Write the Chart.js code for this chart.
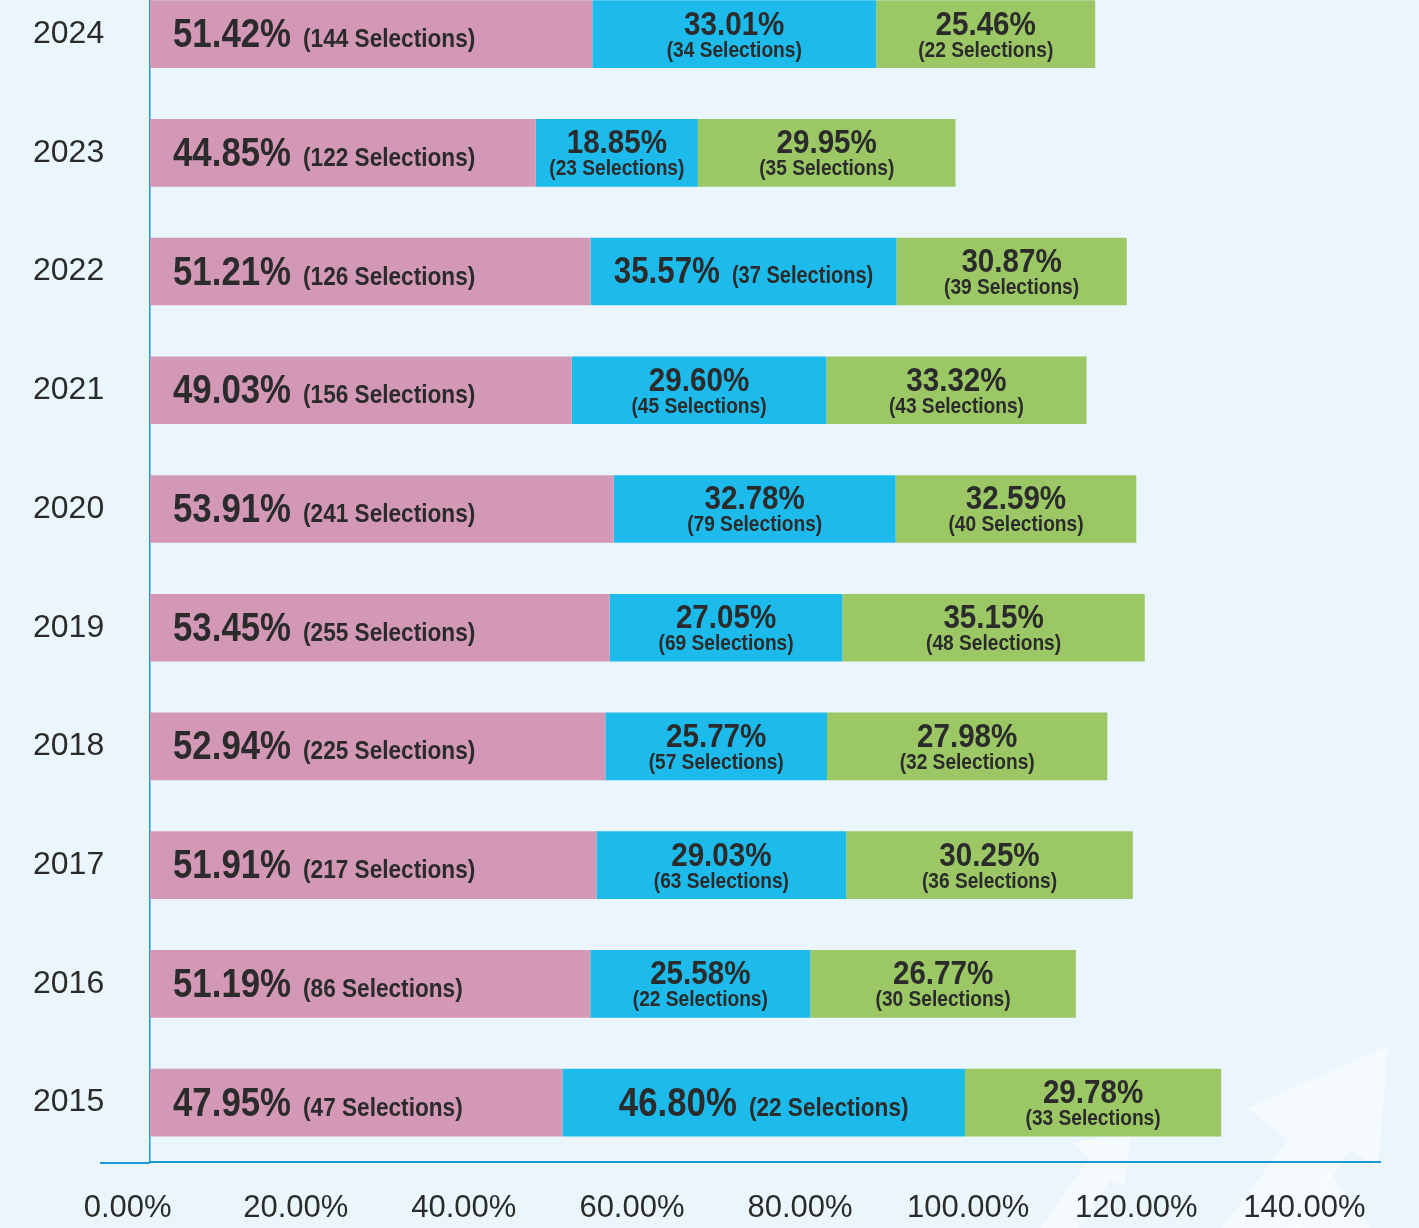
<!DOCTYPE html>
<html>
<head>
<meta charset="utf-8">
<script src="https://cdn.jsdelivr.net/npm/chart.js@4.4.1/dist/chart.umd.min.js"></script>
<style>
  html, body { margin: 0; padding: 0; background: #ebf6fc; }
  canvas { display: block; }
</style>
</head>
<body>
<canvas id="selectionsChart" width="1419" height="1228"></canvas>
<script>
// Years, top to bottom
const years = ['2024', '2023', '2022', '2021', '2020', '2019', '2018', '2017', '2016', '2015'];

// Printed percentages and selection counts
const pinkPct = [51.42, 44.85, 51.21, 49.03, 53.91, 53.45, 52.94, 51.91, 51.19, 47.95];
const pinkSel = [144, 122, 126, 156, 241, 255, 225, 217, 86, 47];
const bluePct = [33.01, 18.85, 35.57, 29.60, 32.78, 27.05, 25.77, 29.03, 25.58, 46.80];
const blueSel = [34, 23, 37, 45, 79, 69, 57, 63, 22, 22];
const greenPct = [25.46, 29.95, 30.87, 33.32, 32.59, 35.15, 27.98, 30.25, 26.77, 29.78];
const greenSel = [22, 35, 39, 43, 40, 48, 32, 36, 30, 33];

// green bars as drawn in the original (some years don't follow their label)
const greenLen = [25.46, 29.95, 26.77, 30.25, 27.98, 35.15, 32.59, 33.32, 30.87, 29.78];

const xTicks = [0, 20, 40, 60, 80, 100, 120, 140];

const FONT = '"Liberation Sans", Arial, sans-serif';
const TEXT = '#2b2b2b';
const AXIS = '#1b98d5';
const SQ = 0.87; // horizontal squeeze to get a condensed look

function textW(ctx, text, font) {
    ctx.font = font;
    return ctx.measureText(text).width * SQ;
}

function drawSqueezed(ctx, text, x, y, font) {
    ctx.save();
    ctx.font = font;
    ctx.translate(x, y);
    ctx.scale(SQ, 1);
    ctx.textAlign = 'left';
    ctx.fillText(text, 0, 0);
    ctx.restore();
}

// background + faint arrows bottom right
const backdrop = {
    id: 'backdrop',
    beforeDraw(chart) {
        const ctx = chart.ctx;
        ctx.save();
        ctx.fillStyle = '#ebf6fc';
        ctx.fillRect(0, 0, chart.width, chart.height);
        ctx.fillStyle = 'rgba(255,255,255,0.45)';
        const shapes = [
            [[1388, 1046], [1247, 1108], [1288, 1140], [1222, 1228], [1300, 1228], [1350, 1150], [1378, 1168]],
            [[1132, 1132], [1073, 1143], [1090, 1158], [1040, 1228], [1078, 1228], [1110, 1180], [1124, 1186]],
            [[1328, 1172], [1290, 1228], [1370, 1228]]
        ];
        shapes.forEach(pts => {
            ctx.beginPath();
            pts.forEach((p, i) => i ? ctx.lineTo(p[0], p[1]) : ctx.moveTo(p[0], p[1]));
            ctx.closePath();
            ctx.fill();
        });
        ctx.restore();
    },
    afterLayout(chart) {
        // the top bar sits half a band above the canvas edge in the original
        const y = chart.scales.y;
        y.top = chart.chartArea.top = -25.3;
        y.height = y.bottom - y.top;
        chart.chartArea.height = chart.chartArea.bottom - chart.chartArea.top;
        y.configure();
    },
    afterDraw(chart) {
        // axis line runs a bit left of the y axis
        const ctx = chart.ctx, a = chart.chartArea;
        ctx.save();
        ctx.strokeStyle = AXIS;
        ctx.lineWidth = 2;
        ctx.beginPath();
        ctx.moveTo(a.left - 50, chart.scales.x2.top + 1);
        ctx.lineTo(a.left, chart.scales.x2.top + 1);
        ctx.stroke();
        ctx.restore();
    }
};

const segLabels = {
    id: 'segLabels',
    afterDatasetsDraw(chart) {
        const ctx = chart.ctx;
        const sets = [[pinkPct, pinkSel], [bluePct, blueSel], [greenPct, greenSel]];
        ctx.save();
        ctx.fillStyle = TEXT;
        ctx.textBaseline = 'alphabetic';
        sets.forEach(([pct, sel], d) => {
            chart.getDatasetMeta(d).data.forEach((bar, i) => {
                const left = Math.min(bar.x, bar.base);
                const right = Math.max(bar.x, bar.base);
                const cy = bar.y;
                const big = pct[i].toFixed(2) + '%';
                const small = '(' + sel[i] + ' Selections)';
                if (d === 0 || pct[i] >= 35.5) {
                    const large = d === 0 || pct[i] >= 40;
                    const bf = 'bold ' + (large ? 40 : 36) + 'px ' + FONT;
                    const sf = 'bold ' + (large ? 26 : 23) + 'px ' + FONT;
                    const wb = textW(ctx, big, bf);
                    const ws = textW(ctx, small, sf);
                    const gap = 12;
                    const x = d === 0 ? left + 23 : (left + right) / 2 - (wb + gap + ws) / 2;
                    const base = cy + (large ? 13 : 11);
                    drawSqueezed(ctx, big, x, base, bf);
                    drawSqueezed(ctx, small, x + wb + gap, base, sf);
                } else {
                    const cx = (left + right) / 2;
                    const bf = 'bold 34px ' + FONT;
                    const sf = 'bold 22px ' + FONT;
                    drawSqueezed(ctx, big, cx - textW(ctx, big, bf) / 2, cy + 0.5, bf);
                    drawSqueezed(ctx, small, cx - textW(ctx, small, sf) / 2, cy + 22.5, sf);
                }
            });
        });
        ctx.restore();
    }
};

new Chart(document.getElementById('selectionsChart'), {
    type: 'bar',
    data: {
        labels: years,
        datasets: [
            { data: pinkPct, backgroundColor: '#d398b5' },
            { data: bluePct, backgroundColor: '#1dbbec' },
            { data: greenLen, backgroundColor: '#9bc765' }
        ]
    },
    options: {
        indexAxis: 'y',
        responsive: false,
        animation: false,
        devicePixelRatio: 1,
        layout: { padding: { top: 0, right: 39, left: 33, bottom: 0 } },
        datasets: { bar: { barPercentage: 0.57, categoryPercentage: 1, clip: false } },
        plugins: {
            legend: { display: false },
            tooltip: { enabled: false }
        },
        scales: {
            x: { stacked: true, min: 0, max: 143, display: false },
            x2: {
                type: 'linear',
                position: 'bottom',
                min: 2.665,
                max: 148.99,
                afterBuildTicks: axis => { axis.ticks = xTicks.map(v => ({ value: v })); },
                afterFit: axis => { axis.height = 66; },
                grid: { display: false, drawTicks: false },
                border: { display: true, color: AXIS, width: 2 },
                ticks: {
                    autoSkip: false,
                    maxRotation: 0,
                    padding: 28,
                    color: TEXT,
                    font: { family: FONT, size: 31 },
                    callback: v => v.toFixed(2) + '%'
                }
            },
            y: {
                stacked: true,
                afterFit: axis => { axis.width = 117; },
                grid: { display: false, drawTicks: false },
                border: { display: true, color: AXIS, width: 1.5 },
                ticks: {
                    padding: 0,
                    crossAlign: 'far',
                    color: TEXT,
                    font: { family: FONT, size: 32 }
                }
            }
        }
    },
    plugins: [backdrop, segLabels]
});
</script>
</body>
</html>
